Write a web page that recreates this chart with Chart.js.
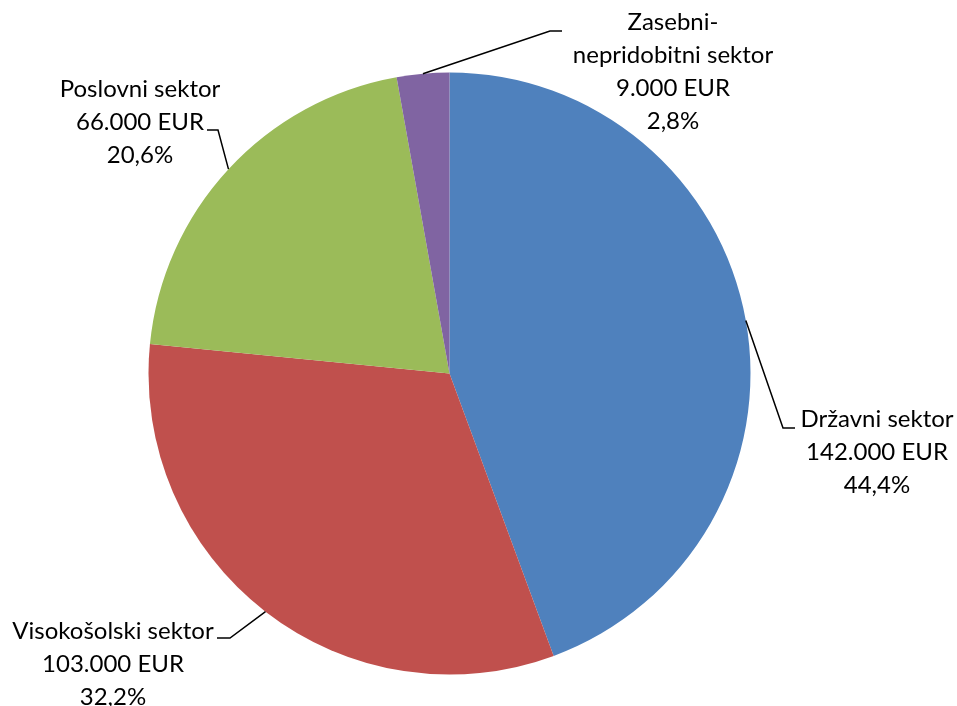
<!DOCTYPE html>
<html>
<head>
<meta charset="utf-8">
<script src="https://cdn.jsdelivr.net/npm/chart.js@4.4.0/dist/chart.umd.min.js"></script>
<style>
  html, body { margin: 0; padding: 0; background: #fff; }
  #pie { display: block; }
</style>
</head>
<body>
<canvas id="pie" width="957" height="706"></canvas>
<script>
// sectors, clockwise from 12 o'clock
const sectors = ['Državni sektor', 'Visokošolski sektor', 'Poslovni sektor', 'Zasebni-\nnepridobitni sektor'];
const amounts = [142000, 103000, 66000, 9000];
const sliceColors = ['#4F81BD', '#C0504D', '#9BBB59', '#8064A2'];

// where each label sits and how its leader line bends (canvas px)
const labelLayout = [
    { cx: 877, cy: 419, elbow: [783, 428], end: [795, 428] },
    { cx: 113, cy: 631, elbow: [230, 638], end: [217, 638] },
    { cx: 140, cy: 89, elbow: [218, 130], end: [207, 130] },
    { cx: 673, cy: 22, elbow: [550, 31], end: [562, 31] }
];

const total = amounts.reduce((a, b) => a + b, 0);
const fmtEur = v => v.toLocaleString('de-DE') + ' EUR';
const fmtPct = v => (v / total * 100).toFixed(1).replace('.', ',') + '%';

const FONT = '24px Lato';
const LINE_H = 33;

const leaderLabels = {
    id: 'leaderLabels',
    afterDatasetsDraw(chart) {
        const ctx = chart.ctx;
        const arcs = chart.getDatasetMeta(0).data;
        ctx.save();
        ctx.strokeStyle = '#000';
        ctx.lineWidth = 1.5;
        ctx.fillStyle = '#000';
        ctx.font = FONT;
        ctx.textAlign = 'center';
        ctx.textBaseline = 'middle';

        arcs.forEach((arc, i) => {
            const p = arc.getProps(['x', 'y', 'startAngle', 'endAngle', 'outerRadius'], true);
            const mid = (p.startAngle + p.endAngle) / 2;
            const sx = p.x + Math.cos(mid) * p.outerRadius;
            const sy = p.y + Math.sin(mid) * p.outerRadius;
            const lay = labelLayout[i];

            ctx.beginPath();
            ctx.moveTo(sx, sy);
            ctx.lineTo(lay.elbow[0], lay.elbow[1]);
            ctx.lineTo(lay.end[0], lay.end[1]);
            ctx.stroke();

            const lines = sectors[i].split('\n').concat([fmtEur(amounts[i]), fmtPct(amounts[i])]);
            lines.forEach((t, k) => ctx.fillText(t, lay.cx, lay.cy + k * LINE_H));
        });
        ctx.restore();
    }
};

new Chart(document.getElementById('pie'), {
    type: 'pie',
    data: {
        labels: sectors,
        datasets: [{
            data: amounts,
            backgroundColor: sliceColors,
            borderWidth: 0
        }]
    },
    options: {
        responsive: false,
        animation: false,
        layout: {
            padding: { left: 148.5, right: 206.5, top: 72.5, bottom: 31.5 }
        },
        plugins: {
            legend: { display: false },
            tooltip: { enabled: false }
        }
    },
    plugins: [leaderLabels]
});
</script>
</body>
</html>
